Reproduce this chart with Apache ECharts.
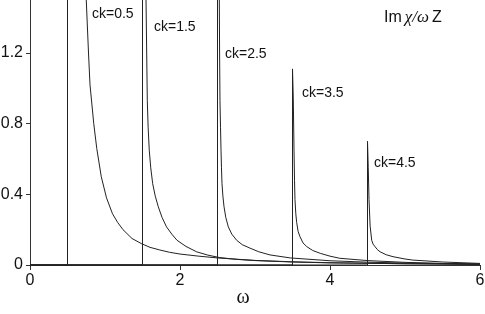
<!DOCTYPE html>
<html>
<head>
<meta charset="utf-8">
<script src="https://cdn.jsdelivr.net/npm/echarts@6/dist/echarts.min.js"></script>
<style>
html,body{margin:0;padding:0;background:#fff;}
#chart{width:485px;height:314px;}
</style>
</head>
<body>
<div id="chart"></div>
<script>
// Curve for ck = 0.5
var w05 = [0, 0.5, 0.5, 0.6, 0.7, 0.75, 0.78, 0.8, 0.85, 0.89, 0.95, 1.02, 1.1, 1.17, 1.24, 1.36, 1.49, 1.6, 1.73, 1.86, 2.0, 2.25, 2.5, 3.0, 3.5, 4.0, 5.0, 6.0];
var v05 = [0, 0, 9, 4.5, 2.3, 1.5, 1.2, 1.02, 0.8, 0.66, 0.5, 0.38, 0.29, 0.24, 0.2, 0.15, 0.12, 0.1, 0.085, 0.072, 0.062, 0.05, 0.04, 0.026, 0.018, 0.013, 0.007, 0.004];
// Curve for ck = 1.5
var w15 = [0, 1.5, 1.5, 1.52, 1.547, 1.556, 1.564, 1.575, 1.59, 1.61, 1.636, 1.67, 1.71, 1.76, 1.82, 1.89, 1.96, 2.08, 2.22, 2.37, 2.53, 2.75, 3.0, 3.5, 4.0, 5.0, 6.0];
var v15 = [0, 0, 6, 3, 1.5, 1.2, 0.93, 0.78, 0.65, 0.55, 0.46, 0.39, 0.33, 0.27, 0.216, 0.175, 0.14, 0.105, 0.075, 0.056, 0.042, 0.032, 0.025, 0.017, 0.012, 0.007, 0.004];
// Curve for ck = 2.5
var w25 = [0, 2.5, 2.5, 2.51, 2.524, 2.528, 2.533, 2.54, 2.547, 2.553, 2.56, 2.572, 2.587, 2.61, 2.644, 2.69, 2.756, 2.83, 2.93, 3.05, 3.2, 3.47, 4.0, 4.5, 5.0, 6.0];
var v25 = [0, 0, 2.2, 1.8, 1.5, 1.2, 0.93, 0.78, 0.65, 0.55, 0.46, 0.39, 0.33, 0.27, 0.216, 0.175, 0.14, 0.115, 0.096, 0.075, 0.057, 0.04, 0.024, 0.016, 0.011, 0.005];
// Curve for ck = 3.5
var w35 = [0, 3.5, 3.5, 3.51, 3.52, 3.527, 3.533, 3.544, 3.556, 3.575, 3.6, 3.64, 3.69, 3.77, 3.87, 4.0, 4.13, 4.5, 5.0, 5.5, 6.0];
var v35 = [0, 0, 1.11, 0.95, 0.65, 0.48, 0.37, 0.29, 0.24, 0.19, 0.16, 0.125, 0.104, 0.082, 0.066, 0.05, 0.038, 0.025, 0.015, 0.009, 0.005];
// Curve for ck = 4.5
var w45 = [0, 4.5, 4.5, 4.51, 4.52, 4.535, 4.556, 4.575, 4.6, 4.63, 4.667, 4.75, 4.84, 5.0, 5.1, 5.5, 6.0];
var v45 = [0, 0, 0.70, 0.55, 0.37, 0.22, 0.14, 0.118, 0.104, 0.088, 0.075, 0.058, 0.047, 0.034, 0.028, 0.017, 0.009];

var curveNames = ['ck=0.5', 'ck=1.5', 'ck=2.5', 'ck=3.5', 'ck=4.5'];
var xTicks = [0, 2, 4, 6];
var yTicks = [0, 0.4, 0.8, 1.2];
var xTitle = 'ω';

function pairs(xs, ys) {
  var out = [];
  for (var i = 0; i < xs.length; i++) out.push([xs[i], ys[i]]);
  return out;
}
var curves = [pairs(w05, v05), pairs(w15, v15), pairs(w25, v25), pairs(w35, v35), pairs(w45, v45)];

var FONT = '"Liberation Sans", Arial, Helvetica, sans-serif';
var SERIF = '"Liberation Serif", "Times New Roman", serif';
var chart = echarts.init(document.getElementById('chart'), null, {renderer: 'canvas'});

var series = curves.map(function (d, i) {
  return {
    name: curveNames[i],
    type: 'line',
    data: d,
    showSymbol: false,
    symbol: 'none',
    clip: true,
    silent: true,
    animation: false,
    lineStyle: {color: '#222', width: 1}
  };
});

var labelPos = [[92, 14.5], [154, 27], [225, 54], [302, 93], [374, 163]];
var graphics = curveNames.map(function (t, i) {
  return {
    type: 'text', x: labelPos[i][0], y: labelPos[i][1],
    style: {text: t, font: '14px ' + FONT, fill: '#111', verticalAlign: 'middle', align: 'left'}
  };
});
graphics.push({
  type: 'text', x: 384, y: 18,
  style: {
    text: '{a|Im}{b|χ/ω}{a|Z}',
    verticalAlign: 'middle', align: 'left',
    rich: {
      a: {font: '16px ' + FONT, fill: '#111', padding: [0, 2, 0, 0]},
      b: {font: 'italic 17px ' + SERIF, fill: '#111', padding: [0, 3, 0, 1]}
    }
  }
});
graphics.push({
  type: 'text', x: 243, y: 298,
  style: {text: xTitle, font: '20px ' + SERIF, fill: '#111', verticalAlign: 'middle', align: 'center'}
});

chart.setOption({
  animation: false,
  backgroundColor: '#fff',
  grid: {left: 30, right: 5, top: 0, bottom: 49, containLabel: false, outerBoundsMode: 'none'},
  xAxis: {
    type: 'value', min: 0, max: 6, interval: 2,
    axisLine: {show: true, onZero: false, lineStyle: {color: '#333', width: 1}},
    axisTick: {show: true, inside: false, length: 5, lineStyle: {color: '#333'}, customValues: xTicks},
    axisLabel: {color: '#111', fontSize: 16, fontFamily: FONT, margin: 8, customValues: xTicks,
      formatter: function (v) { return String(v); }},
    splitLine: {show: false}
  },
  yAxis: {
    type: 'value', min: 0, max: 1.5, interval: 0.4,
    axisLine: {show: true, onZero: false, lineStyle: {color: '#333', width: 1}},
    axisTick: {show: true, inside: false, length: 4, lineStyle: {color: '#333'}, customValues: yTicks},
    axisLabel: {color: '#111', fontSize: 16, fontFamily: FONT, margin: 7, customValues: yTicks,
      showMaxLabel: true,
      formatter: function (v) { return String(Math.round(v * 10) / 10); }},
    splitLine: {show: false}
  },
  series: series,
  graphic: graphics
});
</script>
</body>
</html>
